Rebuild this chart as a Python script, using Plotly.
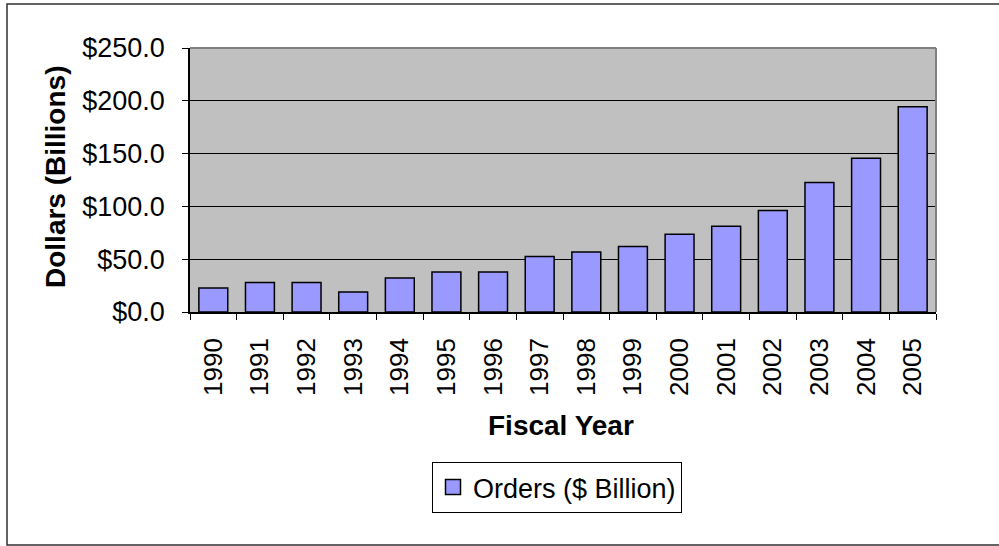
import plotly.graph_objects as go

years = ["1990", "1991", "1992", "1993", "1994", "1995", "1996", "1997",
         "1998", "1999", "2000", "2001", "2002", "2003", "2004", "2005"]
orders = [22.7, 28.0, 28.0, 18.9, 32.1, 37.8, 37.8, 52.6,
          56.7, 62.1, 73.7, 81.3, 96.1, 122.6, 145.6, 194.4]
series_name = "Orders ($ Billion)"
y_ticks = [0, 50, 100, 150, 200, 250]

FONT = "Liberation Sans, Arial, sans-serif"
BAR_COLOR = "#9999FF"

fig = go.Figure()
fig.add_trace(go.Bar(
    x=years, y=orders, name=series_name, showlegend=False,
    marker=dict(color=BAR_COLOR, line=dict(color="black", width=1.5)),
))
# legend entry with a larger square swatch, as in the reference
fig.add_trace(go.Scatter(
    x=[None], y=[None], mode="markers", name=series_name, showlegend=True,
    marker=dict(symbol="square", size=15, color=BAR_COLOR,
                line=dict(color="black", width=1.5)),
))

L, R, T, B = 190, 936, 48, 312
W, H = 999, 546
pw, ph = R - L, B - T

def px(xp):
    return (xp - L) / pw

def py(yp):
    return (B - yp) / ph

fig.update_layout(
    width=W, height=H,
    margin=dict(l=L, r=W - R, t=T, b=H - B, pad=0),
    paper_bgcolor="white",
    plot_bgcolor="#C0C0C0",
    font=dict(family=FONT, color="black"),
    bargap=0.38,
    showlegend=True,
    legend=dict(
        orientation="h", x=px(557), xanchor="center", y=py(462), yanchor="top",
        bgcolor="white", bordercolor="black", borderwidth=1,
        font=dict(size=27, family=FONT), itemwidth=30,
    ),
    xaxis=dict(
        type="category", tickangle=-90, tickfont=dict(size=26),
        ticks="outside", ticklen=6, tickcolor="black", tickson="boundaries",
        showline=True, linecolor="black", linewidth=1.5,
        showgrid=False, ticklabelstandoff=14,
    ),
    yaxis=dict(
        range=[0, 250], tickvals=y_ticks, tickformat="$.1f",
        tickfont=dict(size=27), ticks="outside", ticklen=6, tickcolor="black",
        showline=True, linecolor="black", linewidth=1.5,
        showgrid=True, gridcolor="black", gridwidth=1,
        zeroline=False, ticklabelstandoff=12,
    ),
    annotations=[
        dict(text="<b>Dollars (Billions)</b>", xref="paper", yref="paper",
             x=px(55), y=py(177), xanchor="center", yanchor="middle",
             textangle=-90, showarrow=False, font=dict(size=28, family=FONT)),
        dict(text="<b>Fiscal Year</b>", xref="paper", yref="paper",
             x=px(561), y=py(425), xanchor="center", yanchor="middle",
             showarrow=False, font=dict(size=28, family=FONT)),
    ],
    shapes=[
        dict(type="line", xref="paper", yref="paper", x0=0, x1=1, y0=1, y1=1,
             line=dict(color="#808080", width=2), layer="above"),
        dict(type="line", xref="paper", yref="paper", x0=1, x1=1, y0=0, y1=1,
             line=dict(color="#808080", width=2), layer="above"),
        dict(type="rect", xref="paper", yref="paper",
             x0=px(7), x1=px(1010), y0=py(545), y1=py(4),
             line=dict(color="#303030", width=1.5), layer="below"),
    ],
)

fig.write_html("out.html")
